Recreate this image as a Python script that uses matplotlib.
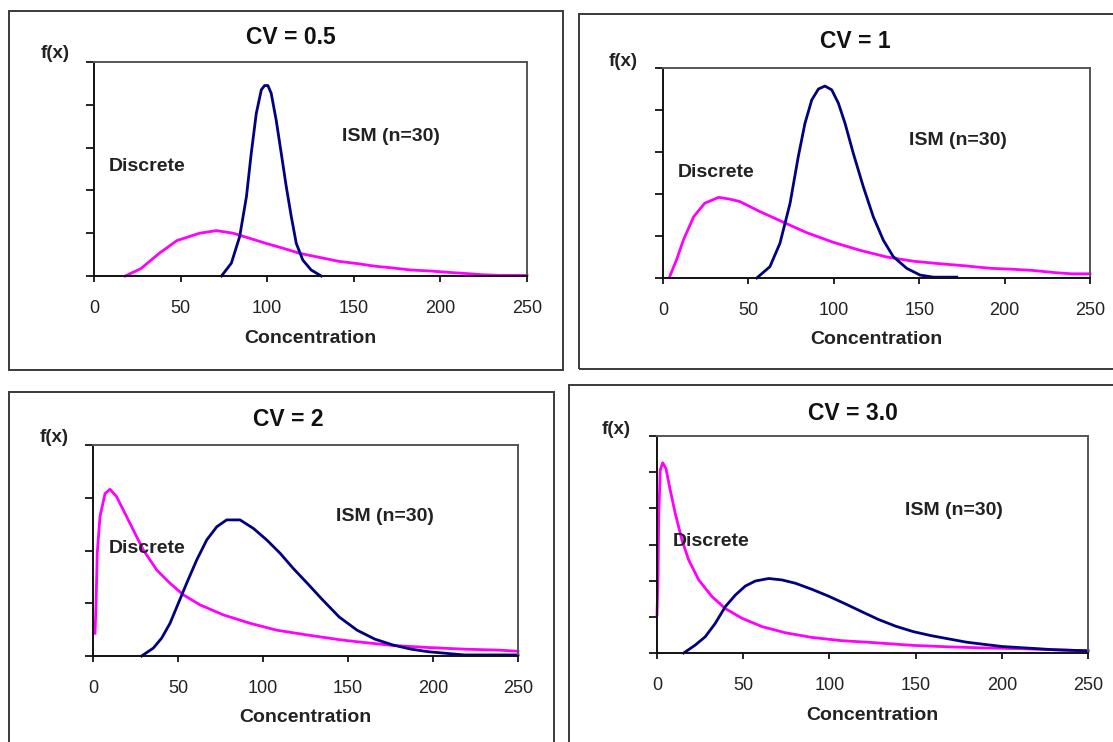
import matplotlib
matplotlib.use("Agg")
import matplotlib.pyplot as plt
from matplotlib.patches import Rectangle

plt.rcParams['font.family'] = ['Liberation Sans', 'DejaVu Sans']

W, H = 1113, 742

# ---------------- data (y in tick units of each panel) ----------------
titles = ["CV = 0.5", "CV = 1", "CV = 2", "CV = 3.0"]
y_max = [5, 5, 4, 6]
x_ticks = [0, 50, 100, 150, 200, 250]

ism_x_05 = [73.6, 79.3, 84.1, 88, 90.8, 93.7, 96.6, 98.5, 100.4, 102.3, 105.2, 108.1, 111, 113.9, 116.8, 120.6, 125.4, 131.2]
ism_y_05 = [0, 0.3, 0.92, 1.85, 2.87, 3.8, 4.35, 4.45, 4.45, 4.27, 3.64, 2.87, 2.09, 1.39, 0.76, 0.37, 0.14, 0.0]
dis_x_05 = [18, 27, 38, 48, 61, 70.7, 80.3, 89.9, 99.5, 109, 118.7, 128.3, 141.7, 152, 162, 172, 183, 193, 203, 214, 224, 234, 250]
dis_y_05 = [0, 0.17, 0.54, 0.83, 1.0, 1.06, 1.0, 0.88, 0.76, 0.65, 0.53, 0.45, 0.34, 0.29, 0.23, 0.19, 0.14, 0.12, 0.09, 0.06, 0.03, 0.015, 0.015]

ism_x_1 = [54.9, 62.6, 68.5, 74.4, 79.2, 83.1, 87.1, 91, 94.8, 98.8, 102.7, 106.6, 111.4, 117.3, 123.1, 129, 134.8, 142.7, 150.5, 158.3, 165, 172]
ism_y_1 = [0, 0.27, 0.83, 1.78, 2.89, 3.68, 4.24, 4.5, 4.57, 4.48, 4.16, 3.68, 2.97, 2.17, 1.46, 0.9, 0.51, 0.23, 0.07, 0.02, 0.02, 0.02]
dis_x_1 = [4, 8, 12, 18, 24.4, 32.6, 38.8, 45, 56.8, 70.4, 84.1, 99.7, 115.3, 131, 146.5, 162, 174, 192, 204, 216.5, 229, 239, 250]
dis_y_1 = [0.04, 0.44, 0.91, 1.46, 1.78, 1.92, 1.88, 1.82, 1.58, 1.33, 1.08, 0.85, 0.66, 0.50, 0.40, 0.34, 0.30, 0.23, 0.21, 0.18, 0.13, 0.10, 0.10]

ism_x_2 = [28.6, 35.5, 40.4, 45.3, 50.2, 55.1, 61, 66.9, 72.8, 78.6, 86.5, 94.3, 102.2, 110, 117.8, 126.6, 134.3, 144.8, 155.3, 165.8, 176.3, 187, 197.4, 208, 218.5, 250]
ism_y_2 = [0, 0.15, 0.34, 0.62, 1.0, 1.38, 1.82, 2.2, 2.45, 2.58, 2.58, 2.42, 2.2, 1.95, 1.66, 1.36, 1.09, 0.74, 0.49, 0.32, 0.21, 0.13, 0.08, 0.05, 0.02, 0.02]
dis_x_2 = [1.2, 1.8, 2.5, 4.1, 7.1, 10, 13.9, 17.8, 23.7, 29.6, 37.5, 45.3, 53.1, 62.9, 76.6, 92.4, 108, 125.7, 144.8, 155.3, 176.3, 197.4, 218.5, 239.5, 250]
dis_y_2 = [0.43, 1.0, 1.95, 2.64, 3.08, 3.16, 3.02, 2.77, 2.39, 2.01, 1.63, 1.38, 1.16, 0.97, 0.78, 0.62, 0.49, 0.40, 0.31, 0.27, 0.20, 0.16, 0.13, 0.11, 0.09]

ism_x_3 = [15.5, 22.2, 28, 33.8, 39.6, 45.4, 51.2, 57, 64.8, 72.5, 80.2, 89.9, 99.6, 109.2, 118.9, 128.3, 138.5, 148.7, 159, 169.2, 179.4, 189.6, 200, 210, 220.3, 230.6, 250]
ism_y_3 = [0, 0.22, 0.45, 0.82, 1.28, 1.6, 1.85, 1.99, 2.06, 2.02, 1.93, 1.76, 1.57, 1.36, 1.14, 0.93, 0.74, 0.59, 0.48, 0.39, 0.30, 0.24, 0.18, 0.15, 0.12, 0.09, 0.06]
dis_x_3 = [0, 0.6, 1.0, 1.9, 3.3, 5.2, 7.7, 10.6, 14.5, 18.4, 24.2, 31.9, 39.6, 49.3, 60.9, 74.4, 89.9, 107.3, 124.7, 148.7, 169.2, 189.6, 210, 230.6, 250]
dis_y_3 = [1.05, 2.11, 3.77, 5.06, 5.26, 5.1, 4.5, 3.86, 3.12, 2.57, 2.02, 1.56, 1.23, 0.96, 0.73, 0.56, 0.43, 0.34, 0.29, 0.21, 0.17, 0.14, 0.12, 0.09, 0.06]

ism_series = [(ism_x_05, ism_y_05), (ism_x_1, ism_y_1), (ism_x_2, ism_y_2), (ism_x_3, ism_y_3)]
dis_series = [(dis_x_05, dis_y_05), (dis_x_1, dis_y_1), (dis_x_2, dis_y_2), (dis_x_3, dis_y_3)]

# text label positions (data coords)
discrete_pos = [(8.7, 2.55), (8.5, 2.52), (9.0, 2.04), (9.2, 3.07)]
ism_pos = [(143.3, 3.26), (143.8, 3.27), (143, 2.64), (143.6, 3.95)]

# ---------------- layout (pixels) ----------------
axes_px = [(94, 62, 527, 276), (663, 68, 1090, 278), (93, 445, 518, 656), (657, 436, 1088, 653)]
boxes_px = [(9, 11, 563, 370), (579, 14, 1130, 369), (9, 392, 554, 760), (569, 385, 1130, 760)]
title_px = [(291, 38), (855, 41), (288, 420), (853, 413)]
fx_px = [(55, 53), (623, 61), (54, 438), (616, 429)]

NAVY = '#000080'
MAG = '#FF00FF'

fig = plt.figure(figsize=(W / 100, H / 100), dpi=100)
fig.patch.set_facecolor('white')

for (x0, y0, x1, y1) in boxes_px:
    fig.add_artist(Rectangle((x0 / W, 1 - y1 / H), (x1 - x0) / W, (y1 - y0) / H,
                             transform=fig.transFigure, fill=False, ec='#3a3a3a', lw=1.4))

for i in range(4):
    x0, y0, x1, y1 = axes_px[i]
    ax = fig.add_axes([x0 / W, 1 - y1 / H, (x1 - x0) / W, (y1 - y0) / H])
    ax.plot(*dis_series[i], color=MAG, lw=2.0, solid_joinstyle='round', clip_on=False)
    ax.plot(*ism_series[i], color=NAVY, lw=2.0, solid_joinstyle='round', clip_on=False)
    ax.set_xlim(0, 250)
    ax.set_ylim(0, y_max[i])
    ax.set_xticks(x_ticks)
    ax.set_xticklabels([str(t) for t in x_ticks], fontsize=13, color='#222222')
    ax.set_yticks(range(y_max[i] + 1))
    ax.set_yticklabels([])
    ax.tick_params(axis='x', direction='out', length=4, width=1.2, pad=13)
    ax.tick_params(axis='y', direction='out', length=6, width=1.2)
    for s in ['left', 'bottom']:
        ax.spines[s].set_color('#111111')
        ax.spines[s].set_linewidth(1.4)
    for s in ['top', 'right']:
        ax.spines[s].set_color('#555555')
        ax.spines[s].set_linewidth(1.4)
    ax.set_xlabel('Concentration', fontsize=14, fontweight='bold', color='#222222')
    ax.xaxis.set_label_coords(0.5, -0.25)
    ax.text(*discrete_pos[i], 'Discrete', fontsize=14, fontweight='bold', color='#222222',
            ha='left', va='center')
    ax.text(*ism_pos[i], 'ISM (n=30)', fontsize=14, fontweight='bold', color='#222222',
            ha='left', va='center')
    tx, ty = title_px[i]
    fig.text(tx / W, 1 - ty / H, titles[i], fontsize=16.5, fontweight='bold',
             ha='center', va='center', color='#111111')
    fx, fy = fx_px[i]
    fig.text(fx / W, 1 - fy / H, 'f(x)', fontsize=13.5, fontweight='bold',
             ha='center', va='center', color='#222222')

fig.savefig('out.png', dpi=100)
